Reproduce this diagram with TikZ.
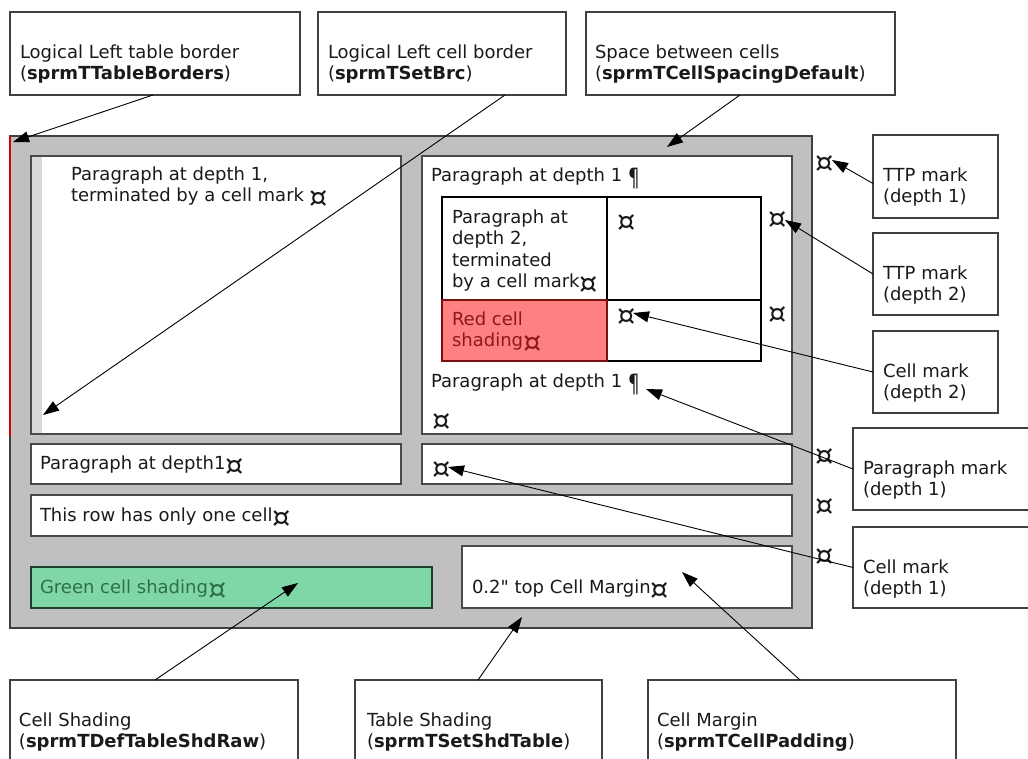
\documentclass[tikz,border=0pt]{standalone}
\usepackage{fontspec}
\setmainfont{DejaVu Sans}[Ligatures=TeXOff]
\usetikzlibrary{arrows.meta}
\newcommand{\ML}[1]{\vtop{\baselineskip=21.5pt\lineskiplimit=-100pt\halign{##\hfil\cr#1\crcr}}}
\newcommand{\cmk}{\raisebox{-6pt}{\scalebox{1.6}{¤}}}
\newcommand{\pmk}{\raisebox{-5pt}{\scalebox{1}[1.4]{¶}}}
\definecolor{boxc}{HTML}{404040}
\definecolor{cellc}{HTML}{4A4A4A}
\definecolor{tablegray}{HTML}{C0C0C0}
\definecolor{stripc}{HTML}{DADADA}
\definecolor{redfill}{HTML}{FF8080}
\definecolor{redline}{HTML}{7A1010}
\definecolor{redtext}{HTML}{8A1A1A}
\definecolor{greenfill}{HTML}{7FD6A6}
\definecolor{greenline}{HTML}{1E3D2A}
\definecolor{greentext}{HTML}{2D7048}
\definecolor{txtc}{HTML}{1A1A1A}
\tikzset{
  lbox/.style={draw=boxc, line width=1.2pt, fill=white, inner sep=0pt, outer sep=0pt, anchor=north west},
  cellbox/.style={draw=cellc, line width=1.8pt, fill=white, inner sep=0pt, outer sep=0pt, anchor=north west},
  nestbox/.style={draw=black, line width=1.4pt, fill=white, inner sep=0pt, outer sep=0pt, anchor=north west},
  txt/.style={anchor=base west, inner sep=0pt, outer sep=0pt, text=txtc, font=\fontsize{18}{21.5}\selectfont},
  arr/.style={draw=black, line width=0.9pt, -{Triangle[length=16pt,width=11pt]}}
}
\begin{document}
\begin{tikzpicture}[x=1pt,y=-1pt]
\useasboundingbox (0,0) rectangle (1028,758);
\fill[white] (0,0) rectangle (1028,758);
\clip (0,0) rectangle (1028,758);

% top label boxes
\node[lbox, minimum width=290pt, minimum height=83pt] (b1) at (10,12) {};
\node[lbox, minimum width=248pt, minimum height=83pt] (b2) at (318,12) {};
\node[lbox, minimum width=309pt, minimum height=83pt] (b3) at (586,12) {};
\node[txt] (t1) at (20,58) {\ML{Logical Left table border\cr(\textbf{sprmTTableBorders})}};
\node[txt] (t2) at (328,58) {\ML{Logical Left cell border\cr(\textbf{sprmTSetBrc})}};
\node[txt] (t3) at (595,58) {\ML{Space between cells\cr(\textbf{sprmTCellSpacingDefault})}};

% main table
\node[draw=boxc, line width=1.3pt, fill=tablegray, inner sep=0pt, outer sep=0pt, anchor=north west, minimum width=802pt, minimum height=492pt] (tab) at (10,136) {};
\draw[red!85!black, line width=2.5pt] (tab.north west) -- ++(0,300);

% row 1
\node[cellbox, minimum width=370pt, minimum height=278pt] (cA) at (31,156) {};
\fill[stripc] (32,157) rectangle (42,433);
\node[cellbox, minimum width=370pt, minimum height=278pt] (cB) at (422,156) {};
\node[nestbox, minimum width=165pt, minimum height=103pt] (n11) at (442,197) {};
\node[nestbox, minimum width=154pt, minimum height=103pt] (n12) at (607,197) {};
\node[nestbox, draw=redline, fill=redfill, minimum width=165pt, minimum height=61pt] (n21) at (442,300) {};
\node[nestbox, minimum width=154pt, minimum height=61pt] (n22) at (607,300) {};
\draw[redline, line width=1.4pt] (n21.north west) rectangle (n21.south east);

\node[txt] (tA) at (71,180) {\ML{Paragraph at depth 1,\cr terminated by a cell mark \cmk}};
\node[txt] (tB1) at (431,181) {Paragraph at depth 1 \pmk};
\node[txt] (tN) at (452,223) {\ML{Paragraph at\cr depth 2,\cr terminated\cr by a cell mark\cmk}};
\node[txt] (mN12) at (617,225) {\cmk};
\node[txt] (mT2) at (768,222) {\cmk};
\node[txt, text=redtext] (tR) at (452,325) {\ML{Red cell\cr shading\cmk}};
\node[txt] (mN22) at (617,319) {\cmk};
\node[txt] (mR2) at (768,317) {\cmk};
\node[txt] (tB2) at (431,387) {Paragraph at depth 1 \pmk};
\node[txt] (mB) at (432,424) {\cmk};
\node[txt] (mT1) at (815,166) {\cmk};

% row 2
\node[cellbox, minimum width=370pt, minimum height=40pt] (cC) at (31,444) {};
\node[cellbox, minimum width=370pt, minimum height=40pt] (cD) at (422,444) {};
\node[txt] (tC) at (40,469) {Paragraph at depth1\cmk};
\node[txt] (mD) at (432,472) {\cmk};
\node[txt] (m2) at (815,459) {\cmk};

% row 3
\node[cellbox, minimum width=761pt, minimum height=41pt] (cE) at (31,495) {};
\node[txt] (tE) at (40,521) {This row has only one cell\cmk};
\node[txt] (m3) at (815,509) {\cmk};

% row 4
\node[cellbox, draw=greenline, fill=greenfill, minimum width=401pt, minimum height=41pt] (cG) at (31,567) {};
\node[cellbox, minimum width=330pt, minimum height=62pt] (cF) at (462,546) {};
\node[txt, text=greentext] (tG) at (40,593) {Green cell shading\cmk};
\node[txt] (tF) at (472,593) {0.2" top Cell Margin\cmk};
\node[txt] (m4) at (815,559) {\cmk};

% right labels
\node[lbox, minimum width=125pt, minimum height=83pt] (p1) at (873,135) {};
\node[lbox, minimum width=125pt, minimum height=82pt] (p2) at (873,233) {};
\node[lbox, minimum width=125pt, minimum height=82pt] (p3) at (873,331) {};
\node[lbox, minimum width=200pt, minimum height=82pt] (p4) at (853,428) {};
\node[lbox, minimum width=200pt, minimum height=81pt] (p5) at (853,527) {};
\node[txt] (tp1) at (883,181) {\ML{TTP mark\cr(depth 1)}};
\node[txt] (tp2) at (883,279) {\ML{TTP mark\cr(depth 2)}};
\node[txt] (tp3) at (883,377) {\ML{Cell mark\cr(depth 2)}};
\node[txt] (tp4) at (863,474) {\ML{Paragraph mark\cr(depth 1)}};
\node[txt] (tp5) at (863,573) {\ML{Cell mark\cr(depth 1)}};

% bottom labels
\node[lbox, minimum width=288pt, minimum height=83pt] (q1) at (10,680) {};
\node[lbox, minimum width=247pt, minimum height=83pt] (q2) at (355,680) {};
\node[lbox, minimum width=308pt, minimum height=83pt] (q3) at (648,680) {};
\node[txt] (tq1) at (19,726) {\ML{Cell Shading\cr(\textbf{sprmTDefTableShdRaw})}};
\node[txt] (tq2) at (367,726) {\ML{Table Shading\cr(\textbf{sprmTSetShdTable})}};
\node[txt] (tq3) at (657,726) {\ML{Cell Margin\cr(\textbf{sprmTCellPadding})}};

% arrow targets
\coordinate (e1) at (13,142);
\coordinate (e2) at (43,415);
\coordinate (e3) at (667,147);
\coordinate (e4) at (832,160);
\coordinate (e5) at (785,220);
\coordinate (e6) at (633,313);
\coordinate (e7) at (646,389);
\coordinate (e8) at (448,467);
\coordinate (e9) at (298,583);
\coordinate (e10) at (522,617);
\coordinate (e11) at (682,572);

% connectors
\draw[arr] ([xshift=143pt]b1.south west) -- (e1);
\draw[arr] ([xshift=187pt]b2.south west) -- (e2);
\draw[arr] ([xshift=154pt]b3.south west) -- (e3);
\draw[arr] ([yshift=-7pt]p1.west) -- (e4);
\draw[arr] (p2.west) -- (e5);
\draw[arr] (p3.west) -- (e6);
\draw[arr] (p4.west) -- (e7);
\draw[arr] (p5.west) -- (e8);
\draw[arr] ([xshift=145pt]q1.north west) -- (e9);
\draw[arr] ([xshift=123pt]q2.north west) -- (e10);
\draw[arr] ([xshift=152pt]q3.north west) -- (e11);
\end{tikzpicture}
\end{document}
